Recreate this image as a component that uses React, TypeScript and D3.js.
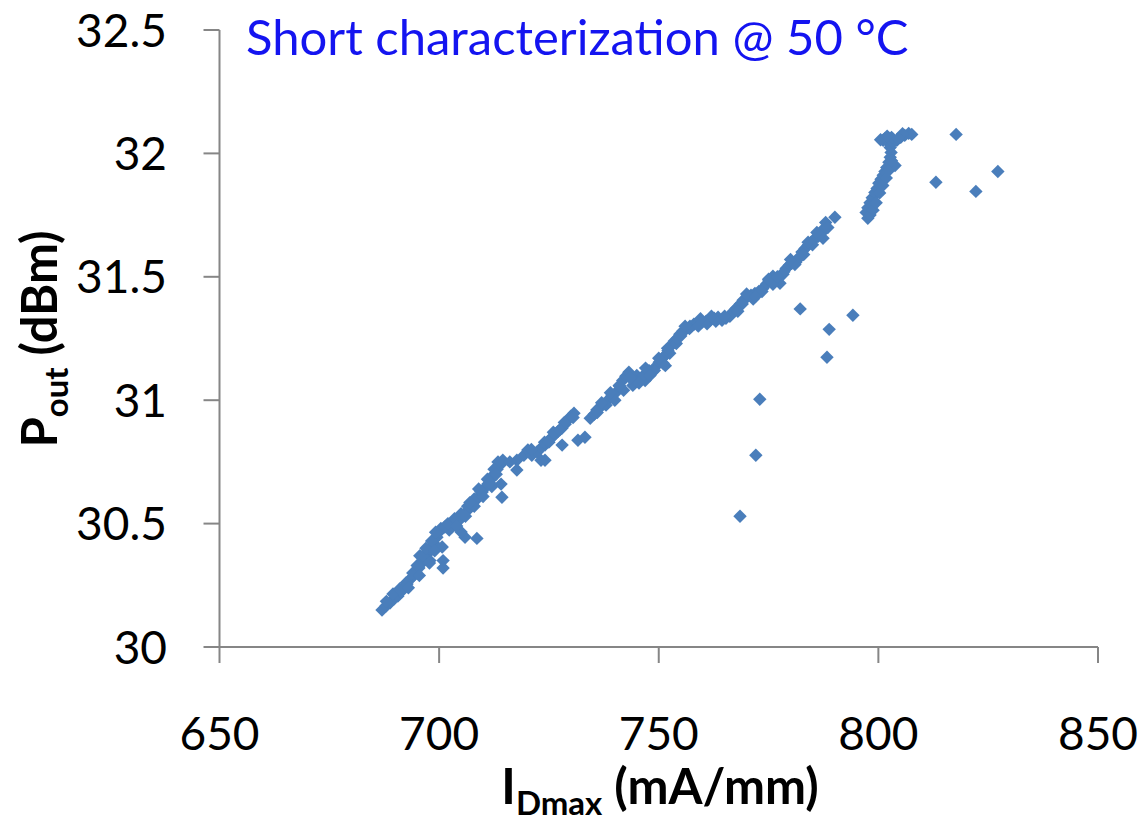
import React from 'react';
import * as d3 from 'd3';

// ==== data

const idmax = [
    687.0, 687.9, 688.8, 689.7, 690.6, 691.3, 692.0, 692.7, 693.4, 694.1,
    694.7, 695.4, 696.1, 696.8, 697.5, 698.1, 698.8, 699.5, 700.0, 700.4,
    700.7, 700.9, 700.9, 695.6, 697.9,
    688.0, 689.5, 691.0, 692.5, 694.0, 695.0, 696.3, 697.0, 698.3, 699.2,
    693.0, 695.5, 697.8, 699.0,
    701.3, 702.3, 702.9, 703.6, 704.3, 705.0, 705.7, 706.3, 707.0, 707.7,
    708.4, 709.1, 709.8, 710.4, 711.1, 711.8, 712.5, 713.2, 713.9, 714.5,
    713.4, 708.6, 705.9, 705.0, 714.3, 714.1, 717.7, 717.7, 716.1,
    702.0, 703.5, 705.0, 706.5, 708.0, 709.5, 711.0, 712.5, 704.0, 706.0,
    708.0, 710.0, 712.0, 713.0, 707.0, 709.0, 711.5,
    719.3, 720.2, 721.1, 722.3, 723.2, 724.1, 724.8, 725.7, 726.4, 727.1,
    728.0, 728.7, 729.3, 730.0, 730.7, 731.6, 733.2, 724.1, 723.2, 728.0,
    734.4, 735.3, 735.9, 736.6, 737.5, 738.4, 739.3, 740.2, 741.1, 741.8,
    742.5, 743.2, 744.1, 745.0, 746.0, 746.9, 747.8, 748.5, 749.4, 750.1,
    750.8, 751.4, 752.1, 752.8, 753.5,
    721.0, 724.0, 726.0, 728.5, 730.5, 736.0, 738.0, 740.0, 742.0, 744.5,
    746.5, 749.0, 751.0, 752.5, 739.0, 741.0, 743.5, 747.0, 750.0, 752.0,
    754.0, 725.0, 727.5, 737.0, 745.5, 748.0, 751.5,
    754.2, 754.8, 755.5, 756.2, 757.1, 758.0, 758.9, 759.8, 760.8, 761.7,
    762.6, 763.5, 764.4, 765.3, 766.2, 766.9, 767.6, 768.5, 769.2, 770.1,
    771.0, 771.9, 772.8, 773.7, 774.5, 775.1, 776.0, 776.7, 777.6, 778.3,
    779.0, 779.7, 780.3, 781.2, 781.9, 782.6, 783.3, 784.0, 784.7, 785.6,
    786.3, 787.2, 787.6, 787.4, 788.0,
    755.0, 757.0, 759.0, 761.0, 763.0, 765.0, 767.0, 769.0, 771.5, 773.5,
    776.0, 778.5, 781.0, 783.0, 785.0, 786.5, 756.0, 759.5, 762.0, 770.0,
    775.0, 780.0, 784.0, 786.0, 788.5, 768.0, 772.0, 777.0, 782.0,
    797.6, 797.2, 797.6, 798.1, 798.6, 799.2, 799.7, 800.1, 800.6, 801.1,
    801.5, 801.9, 802.4, 802.7, 802.9, 802.7, 802.2, 801.5, 801.1, 803.3,
    804.2, 805.1, 806.0, 806.9, 807.6, 803.8, 798.1, 798.6,
    798.8, 799.5, 800.3, 801.0, 801.8, 802.3, 803.0, 800.5, 803.0, 805.5,
    804.5, 802.0,
    782.2, 773.0, 772.1, 768.5, 794.2, 788.8, 788.3, 790.1,
    817.7, 813.1, 827.2, 822.2
];

const pout = [
    30.150, 30.166, 30.178, 30.194, 30.206, 30.223, 30.239, 30.255, 30.275, 30.287,
    30.304, 30.320, 30.340, 30.364, 30.380, 30.400, 30.420, 30.445, 30.466, 30.480,
    30.405, 30.350, 30.320, 30.370, 30.350,
    30.185, 30.215, 30.235, 30.260, 30.300, 30.330, 30.370, 30.400, 30.430, 30.465,
    30.240, 30.290, 30.340, 30.390,
    30.486, 30.474, 30.486, 30.498, 30.510, 30.522, 30.534, 30.550, 30.567, 30.583,
    30.595, 30.611, 30.628, 30.644, 30.660, 30.680, 30.700, 30.720, 30.737, 30.757,
    30.750, 30.440, 30.445, 30.466, 30.607, 30.660, 30.757, 30.717, 30.750,
    30.500, 30.520, 30.540, 30.570, 30.600, 30.630, 30.680, 30.720, 30.490, 30.530,
    30.570, 30.610, 30.650, 30.700, 30.585, 30.640, 30.665,
    30.777, 30.798, 30.777, 30.790, 30.806, 30.818, 30.834, 30.850, 30.862, 30.874,
    30.887, 30.903, 30.920, 30.935, 30.947, 30.838, 30.850, 30.757, 30.757, 30.818,
    30.927, 30.943, 30.960, 30.970, 30.984, 31.000, 31.016, 31.030, 31.057, 31.080,
    31.097, 31.113, 31.060, 31.100, 31.089, 31.080, 31.120, 31.113, 31.138, 31.154,
    31.170, 31.180, 31.200, 31.220, 31.239,
    30.800, 30.830, 30.870, 30.910, 30.930, 30.950, 30.980, 31.000, 31.040, 31.080,
    31.100, 31.120, 31.150, 31.190, 31.030, 31.060, 31.090, 31.130, 31.170, 31.210,
    31.230, 30.830, 30.880, 30.990, 31.070, 31.100, 31.140,
    31.250, 31.267, 31.280, 31.287, 31.300, 31.308, 31.312, 31.316, 31.320, 31.324,
    31.332, 31.336, 31.324, 31.332, 31.340, 31.356, 31.372, 31.389, 31.405, 31.417,
    31.425, 31.433, 31.441, 31.453, 31.470, 31.486, 31.502, 31.490, 31.474, 31.510,
    31.534, 31.547, 31.555, 31.559, 31.575, 31.600, 31.615, 31.628, 31.640, 31.656,
    31.664, 31.680, 31.696, 31.656, 31.720,
    31.260, 31.290, 31.300, 31.310, 31.320, 31.340, 31.360, 31.390, 31.410, 31.440,
    31.470, 31.520, 31.550, 31.590, 31.630, 31.670, 31.300, 31.330, 31.340, 31.430,
    31.490, 31.570, 31.640, 31.680, 31.700, 31.360, 31.420, 31.500, 31.580,
    31.737, 31.761, 31.780, 31.800, 31.820, 31.842, 31.858, 31.879, 31.895, 31.911,
    31.927, 31.943, 31.964, 31.984, 32.004, 32.024, 32.045, 32.060, 32.053, 32.045,
    32.053, 32.065, 32.073, 32.081, 32.077, 31.951, 31.750, 31.790,
    31.770, 31.800, 31.840, 31.870, 31.900, 31.930, 31.970, 32.055, 32.065, 32.080,
    32.060, 32.070,
    31.370, 31.004, 30.777, 30.530, 31.344, 31.287, 31.174, 31.741,
    32.077, 31.883, 31.927, 31.846
];

const xTicks = [650, 700, 750, 800, 850];
const yTicks = [30, 30.5, 31, 31.5, 32, 32.5];

// ====

const W = 1146;
const H = 828;
const FONT = 'Lato, "Open Sans", sans-serif';
const AXIS = '#868686';
const MARK = '#4A7EBB';

export default function App() {
    const x = d3.scaleLinear().domain([650, 850]).range([219.5, 1098]);
    const y = d3.scaleLinear().domain([30, 32.5]).range([647, 30]);
    const diamond = d3.symbol(d3.symbolSquare, 90)();

    return (
        <svg width={W} height={H} style={{ position: 'absolute', left: 0, top: 0, background: '#fff' }}
            fontFamily={FONT}>
            {/* axes */}
            <line x1={x(650)} x2={x(850)} y1={y(30)} y2={y(30)} stroke={AXIS} strokeWidth={2} />
            <line x1={x(650)} x2={x(650)} y1={y(30)} y2={y(32.5)} stroke={AXIS} strokeWidth={2} />
            {xTicks.map(t => (
                <g key={'x' + t}>
                    <line x1={x(t)} x2={x(t)} y1={y(30)} y2={y(30) + 16} stroke={AXIS} strokeWidth={2} />
                    <text x={x(t)} y={750} textAnchor="middle" fontSize={46}>{t}</text>
                </g>
            ))}
            {yTicks.map(t => (
                <g key={'y' + t}>
                    <line x1={x(650) - 16} x2={x(650)} y1={y(t)} y2={y(t)} stroke={AXIS} strokeWidth={2} />
                    <text x={167} y={y(t)} dy="0.36em" textAnchor="end" fontSize={46}>{t}</text>
                </g>
            ))}

            {/* points */}
            {idmax.map((v, i) => (
                <path key={i} d={diamond}
                    transform={`translate(${x(v)},${y(pout[i])}) rotate(45)`}
                    fill={MARK} />
            ))}

            {/* labels */}
            <text x={246} y={55} fontSize={49} fill="#1414F0">Short characterization @ 50 °C</text>
            <text x={660} y={804} textAnchor="middle" fontSize={49} fontWeight="bold">
                I<tspan fontSize={33} dy={11}>Dmax</tspan><tspan dy={-11}> (mA/mm)</tspan>
            </text>
            <text transform="translate(57,339) rotate(-90)" textAnchor="middle" fontSize={49} fontWeight="bold">
                P<tspan fontSize={33} dy={11}>out</tspan><tspan dy={-11}> (dBm)</tspan>
            </text>
        </svg>
    );
}
